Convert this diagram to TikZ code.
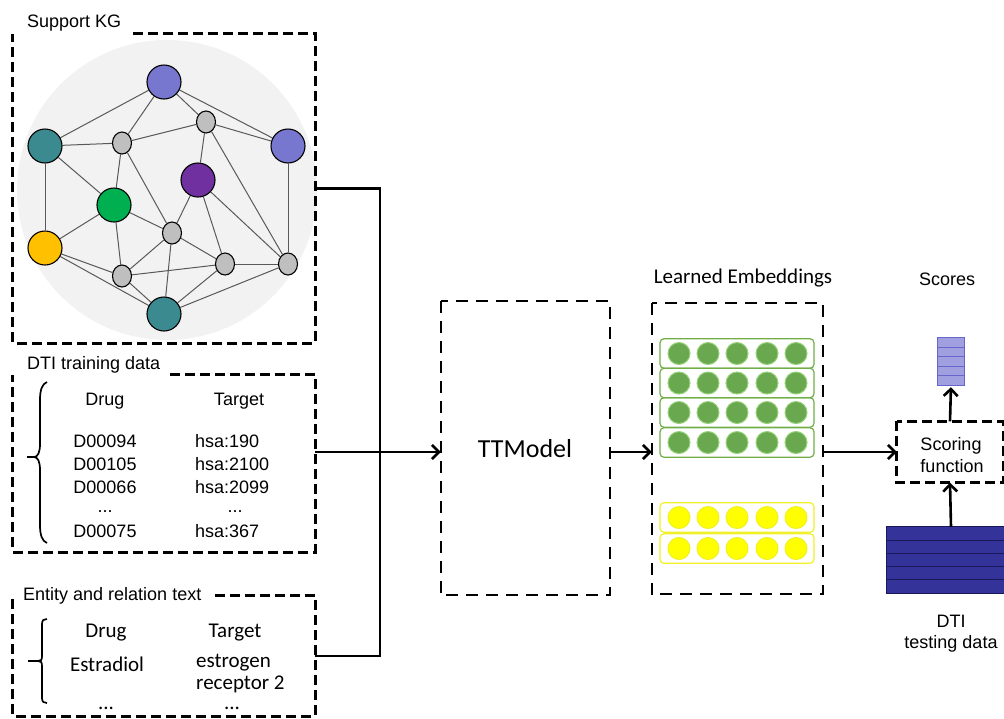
\documentclass[tikz,border=0pt]{standalone}
\usepackage{fontspec}
\setmainfont{Liberation Sans}
\newfontfamily\calibri{Carlito}
\usetikzlibrary{arrows.meta,shapes.geometric}
\pgfdeclarelayer{bg}
\pgfdeclarelayer{edgelayer}
\pgfsetlayers{bg,edgelayer,main}
\definecolor{kgblue}{RGB}{119,119,208}
\definecolor{kgteal}{RGB}{58,138,143}
\definecolor{kgpurple}{RGB}{112,48,160}
\definecolor{kggreen}{RGB}{0,176,80}
\definecolor{kgyellow}{RGB}{255,192,0}
\definecolor{kggray}{RGB}{191,191,191}
\definecolor{kgbg}{RGB}{242,242,242}
\definecolor{embgreen}{RGB}{106,168,79}
\definecolor{embgreenline}{RGB}{112,173,71}
\definecolor{embgreenring}{RGB}{150,210,120}
\definecolor{embyellow}{RGB}{255,255,0}
\definecolor{embyellowline}{RGB}{240,240,40}
\definecolor{scorefill}{RGB}{160,160,224}
\definecolor{scoreline}{RGB}{102,102,204}
\definecolor{testfill}{RGB}{51,51,153}
\definecolor{testline}{RGB}{25,25,90}
\begin{document}
\begin{tikzpicture}[x=1pt,y=-1pt,
  bignode/.style={circle,draw=black,line width=1.1pt,minimum size=34pt,inner sep=0pt},
  smallnode/.style={ellipse,draw=black,line width=1.1pt,fill=kggray,minimum width=19pt,minimum height=22pt,inner sep=0pt},
  kgedge/.style={draw=black!65,line width=1pt},
  boxn/.style={rectangle,inner sep=0pt,draw=none},
  thickdash/.style={line width=3.3pt,dash pattern=on 10pt off 5pt},
  thindash/.style={line width=2.5pt,dash pattern=on 12pt off 8pt},
  conn/.style={line width=2.6pt},
  arr/.style={line width=2.6pt,-{Straight Barb[length=7pt,width=14pt]}},
  lab/.style={font=\fontsize{18}{21}\selectfont,inner sep=0pt,anchor=base},
  labw/.style={font=\fontsize{18}{21}\selectfont,inner sep=0pt,anchor=base west},
  cal/.style={font=\calibri\fontsize{21}{24}\selectfont,inner sep=0pt,anchor=base},
  calw/.style={font=\calibri\fontsize{21}{24}\selectfont,inner sep=0pt,anchor=base west},
  brk/.style={line width=1.7pt},
  greenrow/.style={rectangle,rounded corners=4pt,draw=embgreenline,line width=1.2pt,minimum width=154pt,minimum height=29.5pt,inner sep=0pt},
  yellowrow/.style={rectangle,rounded corners=4pt,draw=embyellowline,line width=1.2pt,minimum width=154pt,minimum height=29.5pt,inner sep=0pt},
  gdot/.style={circle,fill=embgreen,draw=embgreenring,line width=1pt,minimum size=22pt,inner sep=0pt},
  ydot/.style={circle,fill=embyellow,draw=embyellowline,line width=1pt,minimum size=22pt,inner sep=0pt}
]
\useasboundingbox (0,0) rectangle (1004,718);

% ---------- Support KG ----------
\begin{pgfonlayer}{bg}
  \fill[kgbg] (167,190) circle (150pt);
\end{pgfonlayer}
\node[bignode,fill=kgblue] (p1) at (164,82) {};
\node[bignode,fill=kgteal] (t1) at (45,146) {};
\node[bignode,fill=kgblue] (p2) at (288,146) {};
\node[smallnode] (s1) at (122,143) {};
\node[smallnode] (s2) at (206,122) {};
\node[bignode,fill=kgpurple] (pu) at (198,180) {};
\node[bignode,fill=kggreen] (gr) at (114,205) {};
\node[bignode,fill=kgyellow] (ye) at (45,248) {};
\node[smallnode] (s3) at (172,233) {};
\node[smallnode] (s4) at (122,276) {};
\node[smallnode] (s5) at (225,264) {};
\node[smallnode] (s6) at (288,264) {};
\node[bignode,fill=kgteal] (t2) at (164,314) {};
\begin{pgfonlayer}{edgelayer}
  \foreach \a/\b in {p1/t1,p1/s1,p1/s2,p1/p2,t1/s1,t1/gr,t1/ye,s1/s2,s1/gr,s1/s3,
                     s2/p2,s2/pu,s2/s6,p2/s6,pu/s3,pu/s5,pu/s6,gr/ye,gr/s3,gr/s4,
                     ye/s4,ye/t2,s3/s4,s3/s5,s3/t2,s4/s5,s4/t2,s5/s6,s5/t2,s6/t2}
    \draw[kgedge] (\a) -- (\b);
\end{pgfonlayer}

\node[boxn,minimum width=302pt,minimum height=309pt] (kg) at (164,188.5) {};
\draw[thickdash] ([xshift=120pt]kg.north west) -- (kg.north east) -- (kg.south east) -- (kg.south west) -- (kg.north west);
\node[labw] (kgt) at (27,27) {Support KG};

% ---------- DTI training data ----------
\node[boxn,minimum width=302pt,minimum height=177pt] (dti) at (164,463.5) {};
\draw[thickdash] ([xshift=157pt]dti.north west) -- (dti.north east) -- (dti.south east) -- (dti.south west) -- (dti.north west);
\node[labw] (dtit) at (27,369) {DTI training data};
\draw[brk] (47,382) .. controls (42,384) and (40,390) .. (40,400) -- (40,444)
  .. controls (40,452) and (38,457) .. (34,457)
  .. controls (38,457) and (40,462) .. (40,470) -- (40,525)
  .. controls (40,535) and (42,541) .. (47,543);
\draw[brk] (27,457) -- (34,457);
\node[lab] (d0) at (105,405) {Drug};
\node[lab] (t0) at (239,405) {Target};
\node[lab] (d1) at (105,447) {D00094};
\node[lab] (d2) at (105,470) {D00105};
\node[lab] (d3) at (105,493) {D00066};
\node[lab] (d4) at (105,512) {...};
\node[lab] (d5) at (105,537) {D00075};
\node[labw] (h1) at (195,447) {hsa:190};
\node[labw] (h2) at (195,470) {hsa:2100};
\node[labw] (h3) at (195,493) {hsa:2099};
\node[lab] (h4) at (235,512) {...};
\node[labw] (h5) at (195,537) {hsa:367};

% ---------- Entity and relation text ----------
\node[boxn,minimum width=302pt,minimum height=120pt] (ent) at (164,656) {};
\draw[thickdash] ([xshift=202pt]ent.north west) -- (ent.north east) -- (ent.south east) -- (ent.south west) -- (ent.north west);
\node[labw] (entt) at (23,600) {Entity and relation text};
\draw[brk] (47,619) .. controls (44,619) and (42,620) .. (42,624) -- (42,656)
  .. controls (42,660) and (41,661) .. (38,661)
  .. controls (41,661) and (42,662) .. (42,666) -- (42,698)
  .. controls (42,702) and (44,703) .. (47,703);
\draw[brk] (28,661) -- (38,661);
\node[cal] (e0) at (106,637) {Drug};
\node[cal] (e1) at (235,637) {Target};
\node[cal] (e2) at (107,671) {Estradiol};
\node[calw] (e3) at (196,667) {estrogen};
\node[calw] (e4) at (196,689) {receptor 2};
\node[cal] (e5) at (106,709) {...};
\node[cal] (e6) at (232,709) {...};

% ---------- TTModel ----------
\node[boxn,minimum width=169pt,minimum height=294pt] (tt) at (525.5,448) {};
\draw[line width=2.1pt,dash pattern=on 12pt off 8pt] (tt.north west) rectangle (tt.south east);
\node[font=\calibri\fontsize{26}{30}\selectfont,inner sep=0pt,anchor=base] (ttt) at (525,457) {TTModel};

% ---------- Learned Embeddings ----------
\node[boxn,minimum width=171pt,minimum height=291pt] (emb) at (737.5,448.5) {};
\draw[thindash] (emb.north west) rectangle (emb.south east);
\node[font=\calibri\fontsize{21}{24}\selectfont,inner sep=0pt,anchor=base] (embt) at (743,283) {Learned Embeddings};
\foreach \i/\y in {1/353.5,2/383,3/412.5,4/442.5} {
  \node[greenrow] (g\i) at (737,\y) {};
  \foreach \j/\x in {1/679,2/708,3/737,4/767,5/796}
    \node[gdot] (g\i\j) at (\x,\y) {};
}
\foreach \i/\y in {1/517.5,2/548.5} {
  \node[yellowrow] (y\i) at (737,\y) {};
  \foreach \j/\x in {1/679,2/708,3/737,4/767,5/796}
    \node[ydot] (y\i\j) at (\x,\y) {};
}

% ---------- Scoring ----------
\node[boxn,minimum width=106pt,minimum height=61pt] (sf) at (950,452) {};
\draw[thickdash] (sf.north west) rectangle (sf.south east);
\node[lab] (sf1) at (951,450) {Scoring};
\node[lab] (sf2) at (952,472) {function};

\node[boxn,minimum width=27pt,minimum height=47pt] (sc) at (951,361.5) {};
\fill[scorefill] (sc.north west) rectangle (sc.south east);
\foreach \k in {1,2,3,4}
  \draw[scoreline,line width=1pt] (937.5,338+9.4*\k) -- (964.5,338+9.4*\k);
\draw[scoreline,line width=1.2pt] (sc.north west) rectangle (sc.south east);
\node[lab] (sct) at (947,285) {Scores};

\node[boxn,minimum width=128pt,minimum height=66pt] (tst) at (951,560) {};
\fill[testfill] (tst.north west) rectangle (tst.south east);
\foreach \k in {1,2,3,4}
  \draw[testline,line width=1pt] (887,527+13.2*\k) -- (1015,527+13.2*\k);
\draw[testline,line width=1pt] (tst.north west) rectangle (tst.south east);
\node[lab] (tst1) at (951,627) {DTI};
\node[lab] (tst2) at (951,648) {testing data};

% ---------- connectors ----------
\coordinate (ay) at (0,452);
\coordinate (jn) at (380,188.5);
\draw[conn] (kg.east) -- (jn) |- (ent.east);
\draw[arr] (dti.east |- ay) -- (tt.west |- ay);
\draw[arr] (tt.east |- ay) -- (emb.west |- ay);
\draw[arr] (emb.east |- ay) -- (sf.west |- ay);
\draw[arr,shorten >=2pt] (sf.north) -- (sc.south);
\draw[arr] (tst.north) -- (sf.south);
\end{tikzpicture}
\end{document}
